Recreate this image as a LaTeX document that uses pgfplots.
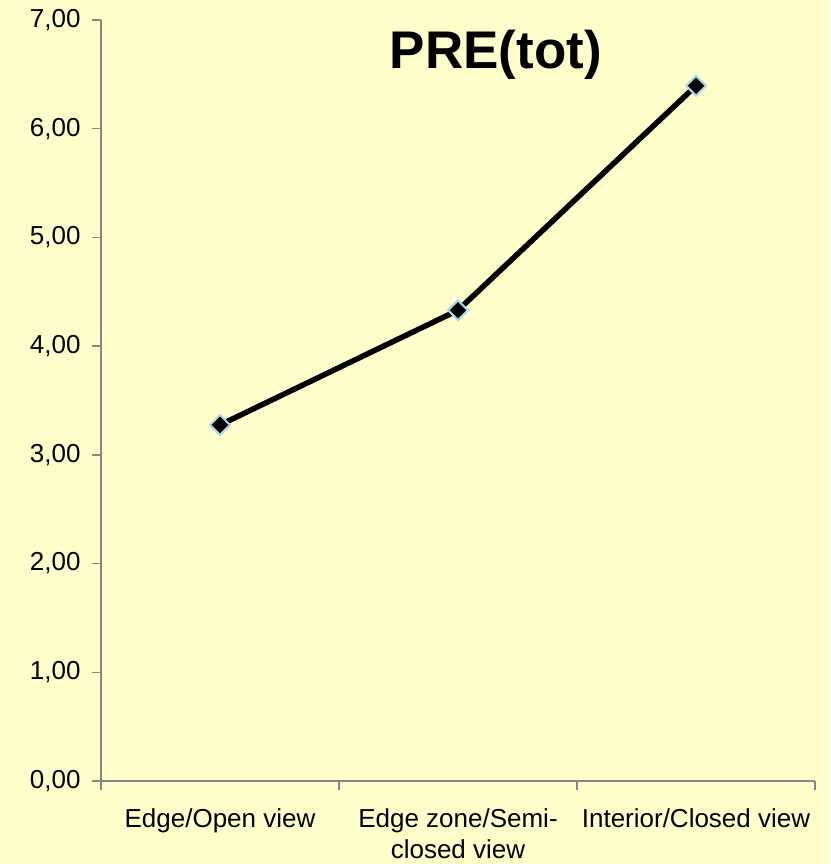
\documentclass[border=0pt]{standalone}
\usepackage{pgfplots}
\pgfplotsset{compat=1.18}
\usepackage{fontspec}
\setmainfont{Liberation Sans}
\usetikzlibrary{backgrounds,calc}
\definecolor{bgc}{RGB}{255,255,204}
\definecolor{axgray}{RGB}{134,134,134}
\definecolor{mkblue}{RGB}{170,214,232}
\begin{document}
\begin{tikzpicture}
\begin{axis}[
  scale only axis,
  width=714pt, height=761pt,
  xmin=-0.5, xmax=2.5, ymin=0, ymax=7,
  axis lines*=left,
  axis line style={axgray, line width=1.6pt},
  every tick/.style={axgray, line width=1.4pt},
  tick align=outside,
  major tick length=9pt,
  xtick={-0.5,0.5,1.5,2.5},
  x tick label as interval,
  xticklabels={Edge/Open view, {Edge zone/Semi-\\closed view}, Interior/Closed view},
  xticklabel style={align=center, font=\fontsize{26}{31}\selectfont, text=black, yshift=-15pt},
  ytick={0,1,2,3,4,5,6,7},
  yticklabel style={font=\fontsize{26}{31}\selectfont, text=black, xshift=-8pt},
  /pgf/number format/.cd, fixed, fixed zerofill, precision=2, use comma, assume math mode=true,
]
\addplot[black, line width=5.5pt, mark=square*, mark size=7pt,
  mark options={rotate=45, fill=black, draw=mkblue, line width=2pt}]
  coordinates {(0,3.275) (1,4.33) (2,6.395)};
\node[font=\fontsize{53}{60}\selectfont\bfseries] at (rel axis cs:0.553,0.954) {PRE(tot)};
\coordinate (O) at (rel axis cs:0,0);
\end{axis}
\begin{pgfonlayer}{background}
\fill[bgc] ($(O)+(-101pt,-83pt)$) rectangle ++(830pt,864pt);
\end{pgfonlayer}
\pgfresetboundingbox
\useasboundingbox ($(O)+(-101pt,-83pt)$) rectangle ++(830pt,864pt);
\end{tikzpicture}
\end{document}
